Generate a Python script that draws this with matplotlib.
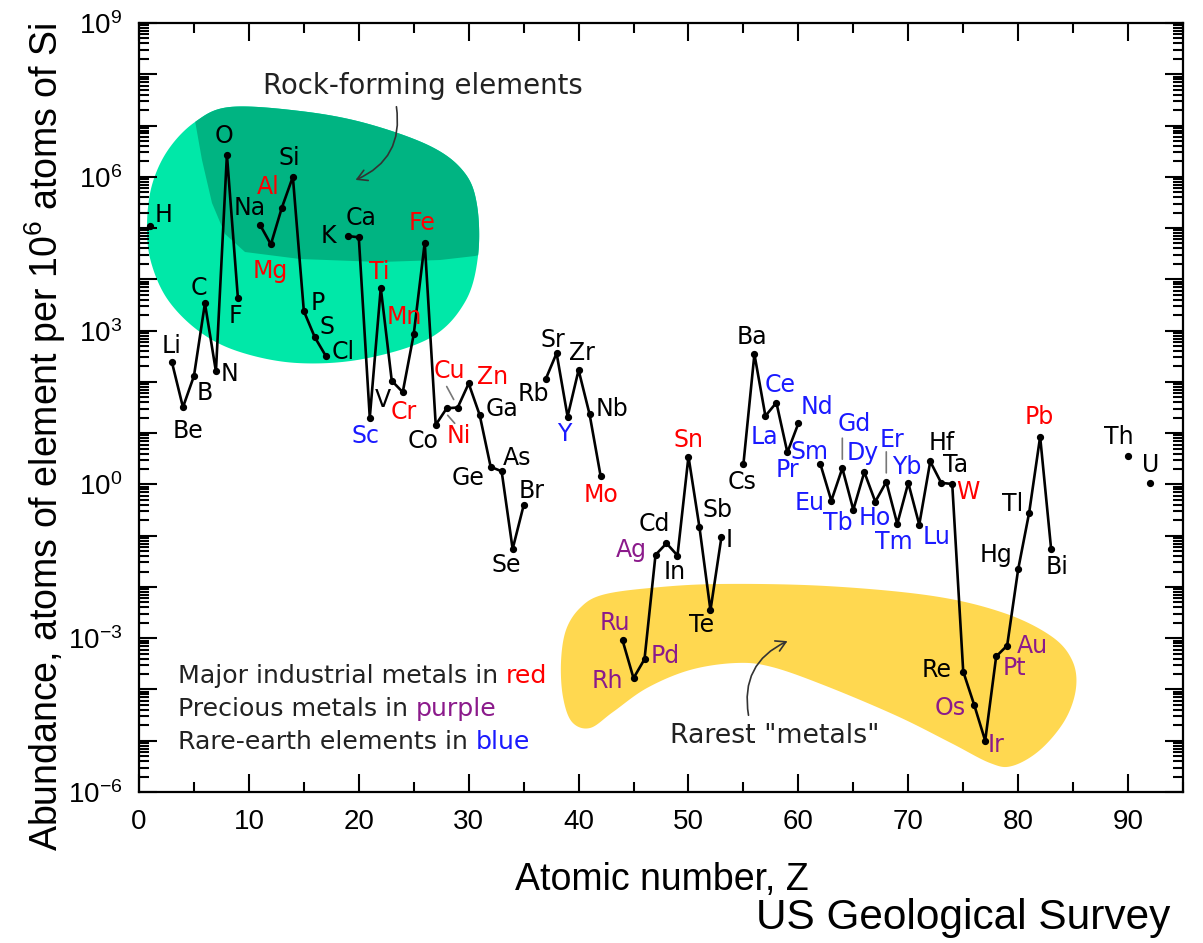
import numpy as np
import pandas as pd
import matplotlib
matplotlib.use("Agg")
import matplotlib.pyplot as plt
from matplotlib.path import Path
from matplotlib.patches import PathPatch, FancyArrowPatch
from matplotlib.transforms import offset_copy
from matplotlib.ticker import FixedLocator, FuncFormatter, MultipleLocator

# ---------------- data ----------------
symbols = ["H", "Li", "Be", "B", "C", "N", "O", "F",
           "Na", "Mg", "Al", "Si", "P", "S", "Cl",
           "K", "Ca", "Sc", "Ti", "V", "Cr", "Mn", "Fe", "Co", "Ni", "Cu", "Zn",
           "Ga", "Ge", "As", "Se", "Br",
           "Rb", "Sr", "Y", "Zr", "Nb", "Mo",
           "Ru", "Rh", "Pd", "Ag", "Cd", "In", "Sn", "Sb", "Te", "I",
           "Cs", "Ba", "La", "Ce", "Pr", "Nd",
           "Sm", "Eu", "Gd", "Tb", "Dy", "Ho", "Er", "Tm", "Yb", "Lu",
           "Hf", "Ta", "W", "Re", "Os", "Ir", "Pt", "Au", "Hg", "Tl", "Pb", "Bi",
           "Th", "U"]
atomic_numbers = [1, 3, 4, 5, 6, 7, 8, 9,
                  11, 12, 13, 14, 15, 16, 17,
                  19, 20, 21, 22, 23, 24, 25, 26, 27, 28, 29, 30,
                  31, 32, 33, 34, 35,
                  37, 38, 39, 40, 41, 42,
                  44, 45, 46, 47, 48, 49, 50, 51, 52, 53,
                  55, 56, 57, 58, 59, 60,
                  62, 63, 64, 65, 66, 67, 68, 69, 70, 71,
                  72, 73, 74, 75, 76, 77, 78, 79, 80, 81, 82, 83,
                  90, 92]
abundance = [1.1e5, 2.4e2, 32, 1.3e2, 3.4e3, 1.6e2, 2.7e6, 4.3e3,
             1.17e5, 4.8e4, 2.5e5, 1.0e6, 2.4e3, 7.4e2, 3.2e2,
             7.0e4, 6.6e4, 20, 6.8e3, 1.05e2, 63, 8.5e2, 5.2e4, 14.5, 30.5, 31.6, 93,
             22.6, 2.2, 1.8, 0.055, 0.39,
             1.12e2, 3.63e2, 21, 1.7e2, 23.4, 1.48,
             9.1e-4, 1.66e-4, 3.9e-4, 0.042, 0.071, 0.041, 3.5, 0.146, 3.5e-3, 0.094,
             2.5, 3.47e2, 21.6, 39.4, 4.2, 15.5,
             2.5, 0.48, 2.07, 0.32, 1.74, 0.46, 1.12, 0.17, 1.07, 0.164,
             2.8, 1.07, 1.02, 2.24e-4, 5.0e-5, 1.0e-5, 4.4e-4, 7.2e-4, 0.022, 0.28, 8.5, 0.055,
             3.6, 1.05]

industrial_red = ["Mg", "Al", "Ti", "Cr", "Mn", "Fe", "Ni", "Cu", "Zn", "Mo", "Sn", "W", "Pb"]
precious_purple = ["Ru", "Rh", "Pd", "Ag", "Os", "Ir", "Pt", "Au"]
rare_earth_blue = ["Sc", "Y", "La", "Ce", "Pr", "Nd", "Sm", "Eu", "Gd", "Tb", "Dy",
                   "Ho", "Er", "Tm", "Yb", "Lu"]

x_ticks = [0, 10, 20, 30, 40, 50, 60, 70, 80, 90]
y_label_exponents = [-6, -3, 0, 3, 6, 9]

# ---------------- style / layout ----------------
RED, PURPLE, BLUE = "#ff0000", "#8b1a8b", "#1a1aff"
LIGHT_GREEN, DARK_GREEN, YELLOW = "#00e8a8", "#00b482", "#ffd850"
TEXT_DARK = "#222222"

plt.rcParams["font.family"] = ["DejaVu Sans"]
plt.rcParams["mathtext.fontset"] = "custom"
plt.rcParams["mathtext.rm"] = "Liberation Sans"
plt.rcParams["mathtext.it"] = "Liberation Sans:italic"
plt.rcParams["mathtext.bf"] = "Liberation Sans:bold"

W, H = 1203, 943
AX_L, AX_R, AX_T, AX_B = 139, 1183, 23, 792
fig = plt.figure(figsize=(W / 100, H / 100), dpi=100)
ax = fig.add_axes([AX_L / W, (H - AX_B) / H, (AX_R - AX_L) / W, (AX_B - AX_T) / H])


def px2ax(x, y):
    return ((x - AX_L) / (AX_R - AX_L), (AX_B - y) / (AX_B - AX_T))


def smooth_closed(pts, n=24):
    P = np.array([px2ax(*p) for p in pts])
    N = len(P)
    out = []
    t = np.linspace(0, 1, n, endpoint=False)[:, None]
    for i in range(N):
        p0, p1, p2, p3 = P[i - 1], P[i], P[(i + 1) % N], P[(i + 2) % N]
        out.append(0.5 * ((2 * p1) + (-p0 + p2) * t + (2 * p0 - 5 * p1 + 4 * p2 - p3) * t ** 2
                          + (-p0 + 3 * p1 - 3 * p2 + p3) * t ** 3))
    v = np.vstack(out)
    v = np.vstack([v, v[:1]])
    codes = [Path.MOVETO] + [Path.LINETO] * (len(v) - 2) + [Path.CLOSEPOLY]
    return Path(v, codes)


# green blob
green_pts = [(230, 107), (300, 111), (365, 123), (430, 146), (464, 172), (477, 205),
             (478, 256), (465, 302), (430, 338), (363, 359), (297, 363), (240, 352),
             (200, 332), (168, 300), (151, 262), (147, 225), (152, 185), (168, 150),
             (195, 122)]
green_path = smooth_closed(green_pts)
green_patch = PathPatch(green_path, transform=ax.transAxes, facecolor=LIGHT_GREEN,
                        edgecolor="none", zorder=1)
ax.add_patch(green_patch)
dark_pts = [(188, 80), (194, 115), (202, 160), (212, 203), (225, 234), (245, 252),
            (300, 259), (380, 262), (440, 260), (475, 256), (500, 250), (500, 80)]
dark_path = Path(np.array([px2ax(*p) for p in dark_pts] + [px2ax(*dark_pts[0])]),
                 [Path.MOVETO] + [Path.LINETO] * (len(dark_pts) - 1) + [Path.CLOSEPOLY])
dark_patch = PathPatch(dark_path, transform=ax.transAxes, facecolor=DARK_GREEN,
                       edgecolor="none", zorder=1.1)
ax.add_patch(dark_patch)
dark_patch.set_clip_path(green_patch)

# yellow blob
yellow_pts = [(602, 595), (650, 588), (719, 584), (826, 586), (933, 596),
              (1004, 613), (1051, 636), (1072, 660), (1076, 688), (1065, 720),
              (1040, 750), (1012, 766), (990, 763), (951, 743), (897, 716),
              (826, 686), (772, 667), (736, 663), (690, 670), (647, 688),
              (613, 712), (590, 728), (572, 722), (563, 697), (561, 662),
              (566, 630), (580, 608)]
ax.add_patch(PathPatch(smooth_closed(yellow_pts), transform=ax.transAxes,
                       facecolor=YELLOW, edgecolor="none", zorder=1))

# ---------------- main series ----------------
series = pd.Series(abundance, index=atomic_numbers).reindex(range(1, 93))
ax.plot(series.index, series.values, color="black", lw=1.9, marker="o", ms=4.2,
        zorder=3, solid_joinstyle="round")

# label offsets in pixels (dx right, dy down) relative to each point
label_offsets = {
    "H": (14, -11), "Li": (0, -16), "Be": (5, 24), "B": (11, 17), "C": (-6, -15),
    "N": (14, 3), "O": (-3, -19), "F": (-2, 18), "Na": (-10, -17), "Mg": (-1, 27),
    "Al": (-14, -21), "Si": (-4, -19), "P": (14, -8), "S": (12, -10), "Cl": (17, -4),
    "K": (-19, 0), "Ca": (2, -19), "Sc": (-4, 18), "Ti": (-2, -16), "V": (-9, 19),
    "Cr": (1, 20), "Mn": (-9, -17), "Fe": (-3, -20), "Co": (-13, 16), "Ni": (12, 28),
    "Cu": (-8, -37), "Zn": (24, -6), "Ga": (22, -6), "Ge": (-23, 11), "As": (15, -13),
    "Se": (-6, 16), "Br": (8, -14), "Rb": (-12, 15), "Sr": (-4, -13), "Y": (-3, 17),
    "Zr": (3, -17), "Nb": (22, -5), "Mo": (0, 19), "Ru": (-8, -17), "Rh": (-26, 3),
    "Pd": (21, -3), "Ag": (-24, -5), "Cd": (-12, -19), "In": (-3, 16), "Sn": (0, -17),
    "Sb": (18, -17), "Te": (-9, 15), "I": (8, 3), "Cs": (-1, 18), "Ba": (-2, -17),
    "La": (-1, 21), "Ce": (4, -18), "Pr": (0, 18), "Nd": (19, -16), "Sm": (-11, -12),
    "Eu": (-22, 2), "Gd": (12, -44), "Tb": (-16, 13), "Dy": (-2, -19), "Ho": (-1, 16),
    "Er": (6, -42), "Tm": (-3, 18), "Yb": (-1, -16), "Lu": (17, 12), "Hf": (12, -18),
    "Ta": (14, -18), "W": (16, 8), "Re": (-27, -2), "Os": (-24, 3), "Ir": (11, 4),
    "Pt": (18, 12), "Au": (25, 0), "Hg": (-22, -14), "Tl": (-17, -9), "Pb": (-1, -20),
    "Bi": (6, 18), "Th": (-9, -19), "U": (1, -18),
}


def label_color(s):
    if s in industrial_red:
        return RED
    if s in precious_purple:
        return PURPLE
    if s in rare_earth_blue:
        return BLUE
    return "black"


for s, z, v in zip(symbols, atomic_numbers, abundance):
    dx, dy = label_offsets[s]
    ax.annotate(s, xy=(z, v), xytext=(dx, -dy), textcoords="offset pixels",
                ha="center", va="center", fontsize=17, color=label_color(s), zorder=4)

# thin grey leader lines (anchor symbol, (x1, y1), (x2, y2) in pixels rel. to point)
leaders = [("Cu", (-11, -21), (-4, -8)), ("Ni", (1, 7), (8, 15)),
           ("Gd", (0, -30), (0, -9)), ("Er", (0, -30), (0, -9))]
val_of = dict(zip(symbols, zip(atomic_numbers, abundance)))
for s, p1, p2 in leaders:
    z, v = val_of[s]
    t1 = offset_copy(ax.transData, fig=fig, x=p1[0], y=-p1[1], units="dots")
    t2 = offset_copy(ax.transData, fig=fig, x=p2[0], y=-p2[1], units="dots")
    ax.annotate("", xy=(z, v), xycoords=t2, xytext=(z, v), textcoords=t1,
                arrowprops=dict(arrowstyle="-", color="#777777", lw=1.2,
                                shrinkA=0, shrinkB=0), zorder=2)

# ---------------- annotations ----------------
ax.text(*px2ax(423, 86), "Rock-forming elements", transform=ax.transAxes,
        ha="center", va="center", fontsize=19.8, color=TEXT_DARK, zorder=5)
ax.add_patch(FancyArrowPatch(px2ax(396, 104), px2ax(353, 181), transform=ax.transAxes,
                             arrowstyle="->,head_length=7,head_width=4",
                             connectionstyle="arc3,rad=-0.4", color="#333333",
                             lw=1.2, zorder=5))
ax.text(*px2ax(775, 736), 'Rarest "metals"', transform=ax.transAxes,
        ha="center", va="center", fontsize=19.3, color=TEXT_DARK, zorder=5)
ax.add_patch(FancyArrowPatch(px2ax(749, 718), px2ax(790, 640), transform=ax.transAxes,
                             arrowstyle="->,head_length=7,head_width=4",
                             connectionstyle="arc3,rad=-0.4", color="#333333",
                             lw=1.2, zorder=5))

legend_lines = [("Major industrial metals in ", "red", RED, 676),
                ("Precious metals in ", "purple", PURPLE, 709),
                ("Rare-earth elements in ", "blue", BLUE, 742)]
for txt, word, col, ypx in legend_lines:
    t = ax.text(*px2ax(178, ypx), txt, transform=ax.transAxes, ha="left",
                va="center", fontsize=18.2, color=TEXT_DARK, zorder=5)
    ax.annotate(word, xy=(1, 0), xycoords=t, ha="left", va="bottom",
                fontsize=18.2, color=col, zorder=5)

# ---------------- axes ----------------
ax.set_yscale("log")
ax.set_xlim(0, 95)
ax.set_ylim(1e-6, 1e9)
ax.xaxis.set_major_locator(FixedLocator(x_ticks))
ax.xaxis.set_minor_locator(MultipleLocator(5))
ax.yaxis.set_major_locator(FixedLocator([10.0 ** e for e in range(-6, 10)]))
ax.yaxis.set_minor_locator(FixedLocator([m * 10.0 ** e for e in range(-6, 9)
                                         for m in range(2, 10)]))
ax.yaxis.set_major_formatter(FuncFormatter(
    lambda v, p: ("$10^{%d}$" % round(np.log10(v))) if round(np.log10(v)) in y_label_exponents else ""))
ax.yaxis.set_minor_formatter(FuncFormatter(lambda v, p: ""))
ax.tick_params(which="both", direction="in", top=True, right=True, width=1.5,
               colors="black")
ax.tick_params(which="major", length=13, labelsize=20, pad=12)
ax.tick_params(which="minor", length=7)
for lab in ax.get_xticklabels():
    lab.set_family("Liberation Sans")
for sp in ax.spines.values():
    sp.set_linewidth(1.6)

fig.text(662 / W, 1 - 880 / H, "Atomic number, Z", ha="center", va="center",
         fontsize=27, family="Liberation Sans")
fig.text(45 / W, 1 - 437 / H, "Abundance, atoms of element per 10$^6$ atoms of Si",
         rotation=90, ha="center", va="center", fontsize=27, family="Liberation Sans")
fig.text(1170 / W, 1 - 918 / H, "US Geological Survey", ha="right", va="center",
         fontsize=30.5, family="Liberation Sans")

fig.savefig("out.png", dpi=100)
